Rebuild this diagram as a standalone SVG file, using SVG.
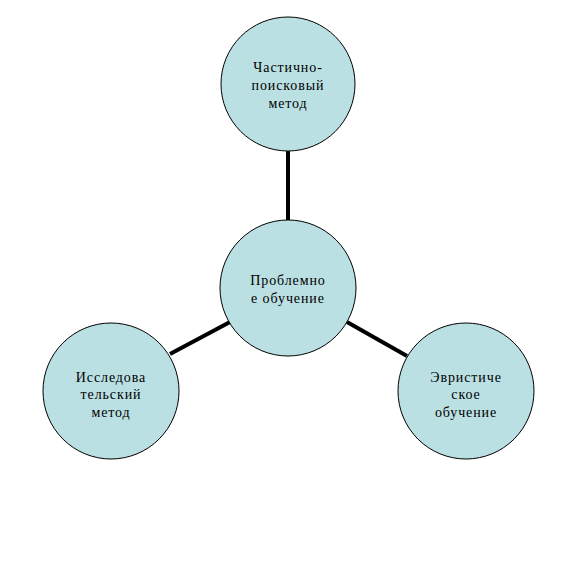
<svg xmlns="http://www.w3.org/2000/svg" width="577" height="577" viewBox="0 0 577 577">
<style>
.n{fill:#bbe0e3;stroke:#000;stroke-width:1}
.t{font-family:"Liberation Serif","Times New Roman",serif;font-size:14px;fill:#000;text-anchor:middle;letter-spacing:0.9px}
.c{stroke:#000;stroke-width:4;fill:none}
</style>
<rect width="577" height="577" fill="#fff"/>
<g id="connectors">
<line class="c" x1="288" y1="151" x2="288" y2="220"/>
<line class="c" x1="170" y1="354" x2="230" y2="322"/>
<line class="c" x1="347" y1="322" x2="407" y2="356"/>
</g>
<g id="node-top">
<circle class="n" cx="288" cy="84" r="67"/>
<text class="t" x="288" y="72">Частично-</text>
<text class="t" x="288" y="90">поисковый</text>
<text class="t" x="288" y="108">метод</text>
</g>
<g id="node-center">
<circle class="n" cx="288" cy="288" r="68"/>
<text class="t" x="288" y="285">Проблемно</text>
<text class="t" x="288" y="303">е обучение</text>
</g>
<g id="node-left">
<circle class="n" cx="111" cy="391" r="68"/>
<text class="t" x="111" y="382">Исследова</text>
<text class="t" x="111" y="399">тельский</text>
<text class="t" x="111" y="417">метод</text>
</g>
<g id="node-right">
<circle class="n" cx="466" cy="391" r="68"/>
<text class="t" x="466" y="382">Эвристиче</text>
<text class="t" x="466" y="399">ское</text>
<text class="t" x="466" y="417">обучение</text>
</g>
</svg>
